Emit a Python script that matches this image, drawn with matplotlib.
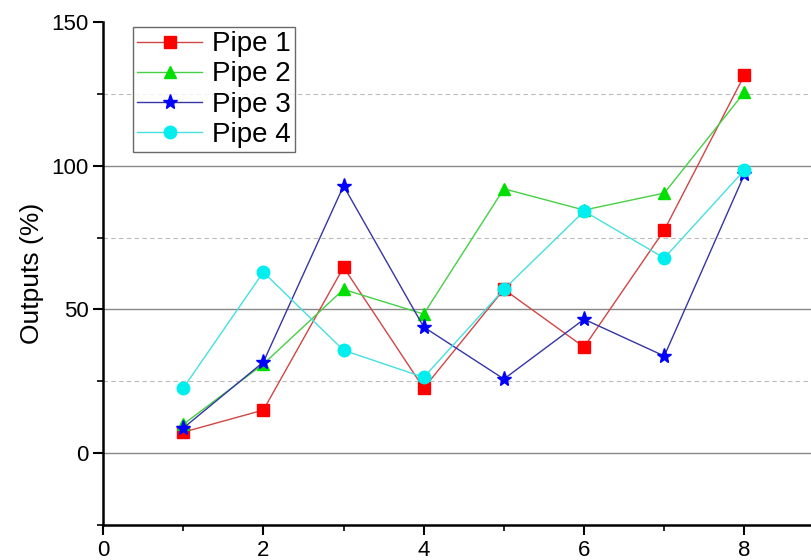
import matplotlib.pyplot as plt
from matplotlib.ticker import MultipleLocator

# data
x = [1, 2, 3, 4, 5, 6, 7, 8]
pipe1 = [7.3, 15, 64.7, 22.6, 57, 36.9, 77.6, 131.6]
pipe2 = [10, 31, 57, 48.4, 92, 84.6, 90.5, 125.6]
pipe3 = [8.7, 31.7, 93, 43.9, 25.8, 46.6, 33.8, 97]
pipe4 = [22.6, 63, 35.8, 26.4, 57, 84.2, 67.9, 98.5]

labels = ['Pipe 1', 'Pipe 2', 'Pipe 3', 'Pipe 4']
series = [pipe1, pipe2, pipe3, pipe4]
line_colors = ['#d04545', '#45d045', '#3535a5', '#45e0e0']
marker_colors = ['#ff0000', '#00e000', '#0000ff', '#00eeee']
markers = ['s', '^', '*', 'o']
marker_sizes = [8, 9, 11, 9]

plt.rcParams['font.family'] = ['Liberation Sans', 'DejaVu Sans']

fig = plt.figure(figsize=(8.11, 5.6), dpi=100)
ax = fig.add_axes([0.127, 0.0625, 0.873, 0.898])

# grid lines
for yv in [0, 50, 100]:
    ax.axhline(yv, color='#888888', lw=1.0, zorder=0)
for yv in [25, 75, 125]:
    ax.axhline(yv, color='#bbbbbb', lw=0.8, ls=(0, (4, 3)), zorder=0)

for s, lab, lc, mc, m, ms in zip(series, labels, line_colors, marker_colors, markers, marker_sizes):
    ax.plot(x, s, color=lc, lw=1.0, marker=m, markersize=ms,
            markerfacecolor=mc, markeredgecolor=mc, label=lab)

ax.set_xlim(0, 8.83)
ax.set_ylim(-25, 150)
ax.xaxis.set_major_locator(MultipleLocator(2))
ax.xaxis.set_minor_locator(MultipleLocator(1))
ax.yaxis.set_major_locator(MultipleLocator(50))
ax.yaxis.set_minor_locator(MultipleLocator(25))

ax.spines['top'].set_visible(False)
ax.spines['right'].set_visible(False)
ax.spines['left'].set_linewidth(1.8)
ax.spines['bottom'].set_linewidth(1.8)
ax.tick_params(which='major', direction='out', length=7, width=1.5, labelsize=16)
ax.tick_params(which='minor', direction='out', length=4, width=1.2)

ax.set_ylabel('Outputs (%)', fontsize=19, labelpad=5)

leg = ax.legend(loc='upper left', bbox_to_anchor=(0.042, 0.99), fontsize=20,
                frameon=True, fancybox=False, edgecolor='#444444',
                borderpad=0.15, labelspacing=0.15, handlelength=2.35,
                handletextpad=0.35, borderaxespad=0)
leg.get_frame().set_linewidth(1.0)

fig.savefig('out.png', dpi=100)
